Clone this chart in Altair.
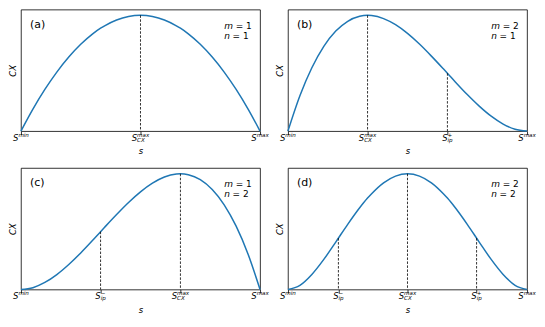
import altair as alt
import pandas as pd

# ---------------- data ----------------
s_grid = [0.0, 0.05, 0.10, 0.15, 0.20, 0.25, 0.30, 0.333, 0.35, 0.40, 0.45, 0.50,
          0.55, 0.60, 0.65, 0.667, 0.70, 0.75, 0.80, 0.85, 0.90, 0.95, 1.0]

cx_a = [0.0, 0.19, 0.36, 0.51, 0.64, 0.75, 0.84, 0.889, 0.91, 0.96, 0.99, 1.0,
        0.99, 0.96, 0.91, 0.889, 0.84, 0.75, 0.64, 0.51, 0.36, 0.19, 0.0]
cx_b = [0.0, 0.305, 0.547, 0.732, 0.864, 0.949, 0.992, 1.0, 0.998, 0.972, 0.919, 0.844,
        0.752, 0.648, 0.538, 0.5, 0.425, 0.316, 0.216, 0.129, 0.061, 0.016, 0.0]
cx_c = [0.0, 0.016, 0.061, 0.129, 0.216, 0.316, 0.425, 0.5, 0.538, 0.648, 0.752, 0.844,
        0.919, 0.972, 0.998, 1.0, 0.992, 0.949, 0.864, 0.732, 0.547, 0.305, 0.0]
cx_d = [0.0, 0.036, 0.130, 0.260, 0.410, 0.563, 0.706, 0.790, 0.828, 0.922, 0.980, 1.0,
        0.980, 0.922, 0.828, 0.790, 0.706, 0.563, 0.410, 0.260, 0.130, 0.036, 0.0]

panel_letters = ["(a)", "(b)", "(c)", "(d)"]
m_values = [1, 2, 1, 2]
n_values = [1, 1, 2, 2]

# tick positions and label parts (superscript, subscript)
ticks_a = [(0.0, "min", ""), (0.5, "max", "CX"), (1.0, "max", "")]
ticks_b = [(0.0, "min", ""), (0.333, "max", "CX"), (0.667, "+", "ip"), (1.0, "max", "")]
ticks_c = [(0.0, "min", ""), (0.333, "\u2212", "ip"), (0.667, "max", "CX"), (1.0, "max", "")]
ticks_d = [(0.0, "min", ""), (0.211, "\u2212", "ip"), (0.5, "max", "CX"), (0.789, "+", "ip"), (1.0, "max", "")]

# dashed guide lines: position, height
dash_a = [(0.5, 1.0)]
dash_b = [(0.333, 1.0), (0.667, 0.5)]
dash_c = [(0.333, 0.5), (0.667, 1.0)]
dash_d = [(0.211, 0.444), (0.5, 1.0), (0.789, 0.444)]

# ---------------- styling ----------------
FONT = "DejaVu Sans"
BLUE = "#1f77b4"
W, H = 240, 122
YMAX = 1.05
S_SIZE = 8.5
SMALL = 5.6
ADV = {"S": 0.635, "m": 0.974, "a": 0.613, "x": 0.592, "i": 0.278, "n": 0.634,
       "C": 0.698, "X": 0.685, "p": 0.635, "+": 0.838, "\u2212": 0.838}


def text_width(t, size):
    return sum(ADV.get(ch, 0.6) for ch in t) * size


def panel(idx, cx, ticks, dashes):
    xs = alt.X("s:Q", scale=alt.Scale(domain=[0, 1], nice=False, zero=False),
               axis=alt.Axis(values=[t[0] for t in ticks], labels=False, ticks=True,
                             tickSize=3.5, tickColor="black", tickWidth=0.8,
                             domain=False, grid=False, title="s",
                             titleFont=FONT, titleFontStyle="italic",
                             titleFontWeight="normal", titleFontSize=8.5,
                             titleColor="black", titlePadding=12))
    ys = alt.Y("cx:Q", scale=alt.Scale(domain=[0, YMAX], nice=False),
               axis=alt.Axis(labels=False, ticks=False, domain=False, grid=False,
                             title="CX", titleFont=FONT, titleFontStyle="italic",
                             titleFontWeight="normal", titleFontSize=8.5,
                             titleColor="black", titlePadding=3))
    line = alt.Chart(pd.DataFrame({"s": s_grid, "cx": cx})).mark_line(
        color=BLUE, strokeWidth=1.5, interpolate="monotone").encode(x=xs, y=ys)

    dash = alt.Chart(pd.DataFrame({"s": [d[0] for d in dashes],
                                   "cx": [d[1] for d in dashes]})).mark_rule(
        color="black", strokeWidth=0.8, strokeDash=[2.5, 1.5]).encode(
        x="s:Q", y="cx:Q", y2=alt.datum(0))

    layers = [line, dash]

    for pos, sup, sub in ticks:
        ws = text_width("S", S_SIZE)
        wsmall = max(text_width(sup, SMALL), text_width(sub, SMALL))
        total = ws + wsmall
        left = -total / 2
        df = pd.DataFrame({"s": [pos], "cx": [0.0], "main": ["S"], "sup": [sup], "sub": [sub]})
        base = alt.Chart(df)
        layers.append(base.mark_text(font=FONT, fontStyle="italic", fontSize=S_SIZE,
                                     align="left", baseline="alphabetic", color="black",
                                     dx=left, dy=10).encode(x="s:Q", y="cx:Q", text="main:N"))
        if sup:
            layers.append(base.mark_text(font=FONT, fontStyle="italic", fontSize=SMALL,
                                         align="left", baseline="alphabetic", color="black",
                                         dx=left + ws, dy=5.5).encode(x="s:Q", y="cx:Q", text="sup:N"))
        if sub:
            layers.append(base.mark_text(font=FONT, fontStyle="italic", fontSize=SMALL,
                                         align="left", baseline="alphabetic", color="black",
                                         dx=left + ws, dy=10.5).encode(x="s:Q", y="cx:Q", text="sub:N"))

    lab = pd.DataFrame({"s": [0.0], "cx": [YMAX], "t": [panel_letters[idx]]})
    layers.append(alt.Chart(lab).mark_text(font=FONT, fontSize=11, align="left",
                                           baseline="alphabetic", color="black",
                                           dx=9, dy=18.5).encode(x="s:Q", y="cx:Q", text="t:N"))

    mn = pd.DataFrame({"s": [1.0, 1.0], "cx": [YMAX, YMAX],
                       "v": ["m", "n"],
                       "r": [f"= {m_values[idx]}", f"= {n_values[idx]}"]})
    for row, dyv, rest_dx in ((0, 19, -24.5), (1, 29.5, -27.6)):
        sub_df = mn.iloc[[row]]
        layers.append(alt.Chart(sub_df).mark_text(font=FONT, fontStyle="italic", fontSize=9,
                                                  align="left", baseline="alphabetic",
                                                  color="black", dx=-36, dy=dyv).encode(
            x="s:Q", y="cx:Q", text="v:N"))
        layers.append(alt.Chart(sub_df).mark_text(font=FONT, fontSize=9,
                                                  align="left", baseline="alphabetic",
                                                  color="black", dx=rest_dx, dy=dyv).encode(
            x="s:Q", y="cx:Q", text="r:N"))

    return alt.layer(*layers).properties(width=W, height=H)


pa = panel(0, cx_a, ticks_a, dash_a)
pb = panel(1, cx_b, ticks_b, dash_b)
pc = panel(2, cx_c, ticks_c, dash_c)
pd_ = panel(3, cx_d, ticks_d, dash_d)

chart = alt.concat(pa, pb, pc, pd_, columns=2,
                   spacing={"row": 37, "column": 28}, bounds="flush").properties(
    padding={"left": 0, "top": 0, "right": 0, "bottom": 0},
    background="white"
).configure_view(stroke="black", strokeWidth=0.8)

chart.save("out.html", embed_options={"renderer": "svg", "actions": False})
